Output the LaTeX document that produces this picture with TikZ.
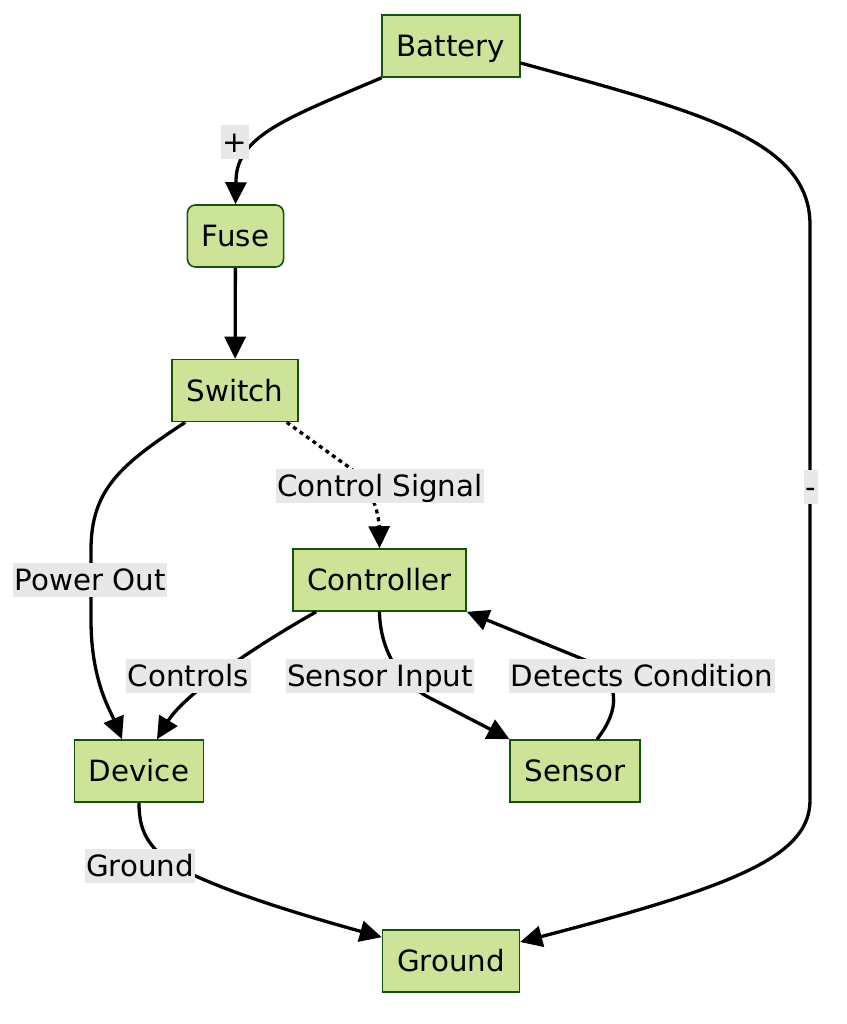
\documentclass[tikz,border=0pt]{standalone}
\usepackage{fontspec}
\setmainfont{DejaVu Sans}
\usepackage{xcolor}
\usepackage{tikz}
\usetikzlibrary{arrows.meta,positioning}
\definecolor{nodefill}{HTML}{CDE498}
\definecolor{nodeline}{HTML}{13540C}
\definecolor{labelbg}{HTML}{E8E8E8}

\begin{document}
\begin{tikzpicture}[x=1pt,y=-1pt,
  font=\fontsize{29.3}{35}\selectfont,
  blk/.style={draw=nodeline,fill=nodefill,line width=1.6pt,minimum height=62pt,
    inner xsep=14.5pt,text height=21.4pt,text depth=0pt},
  lbl/.style={fill=labelbg,inner xsep=1.5pt,inner ysep=0pt,minimum height=34pt,
    text height=21.4pt,text depth=0pt},
  wire/.style={line width=3.3pt,-{Triangle[length=22pt,width=21pt]}}
]
\useasboundingbox[fill=white] (0,0) rectangle (846,1024);
\node[blk] (bat) at (451,46) {Battery};
\node[blk,rounded corners=8pt] (fuse) at (235.5,236) {Fuse};
\node[blk] (sw) at (235,390.5) {Switch};
\node[blk] (ctrl) at (379.5,580) {Controller};
\node[blk] (dev) at (139,771) {Device};
\node[blk] (sen) at (575,771) {Sensor};
\node[blk] (gnd) at (451,961) {Ground};

\draw[wire] (bat.south west) .. controls (290,117) and (237,135) .. (236,180) -- (fuse.north);
\draw[wire] ([yshift=-17pt]bat.east) .. controls (700,112) and (810,140) .. (810,225)
  -- (810,800) .. controls (810,855) and (740,885) .. ([yshift=19pt]gnd.east);
\draw[wire] (fuse) -- (sw);
\draw[wire,dash pattern=on 4pt off 4pt] ([xshift=-12pt]sw.south east) -- (350,468)
  .. controls (372,485) and (379,515) .. (ctrl.north);
\draw[wire] ([xshift=14pt]sw.south west) .. controls (120,465) and (91,490) .. (91,550)
  -- (91,620) .. controls (91,680) and (110,710) .. ([xshift=-17pt]dev.north);
\draw[wire] ([xshift=24pt]ctrl.south west) .. controls (240,655) and (182,698) .. ([xshift=18pt]dev.north);
\draw[wire] (ctrl.south) .. controls (380,650) and (400,683) .. (430,698) -- (sen.north west);
\draw[wire] ([xshift=22pt]sen.north) .. controls (620,710) and (622,680) .. (585,660) -- (ctrl.south east);
\draw[wire] (dev.south) .. controls (139,835) and (150,855) .. (200,878)
  .. controls (250,900) and (320,920) .. ([yshift=-8pt]gnd.north west);

\node[lbl] at (235,142) {+};
\node[lbl] at (380,486) {Control Signal};
\node[lbl] at (90,580) {Power Out};
\node[lbl] at (188.5,676) {Controls};
\node[lbl] at (380,676) {Sensor Input};
\node[lbl] at (642,676) {Detects Condition};
\node[lbl] at (140,866) {Ground};
\node[lbl] at (811,487) {-};
\end{tikzpicture}
\end{document}
